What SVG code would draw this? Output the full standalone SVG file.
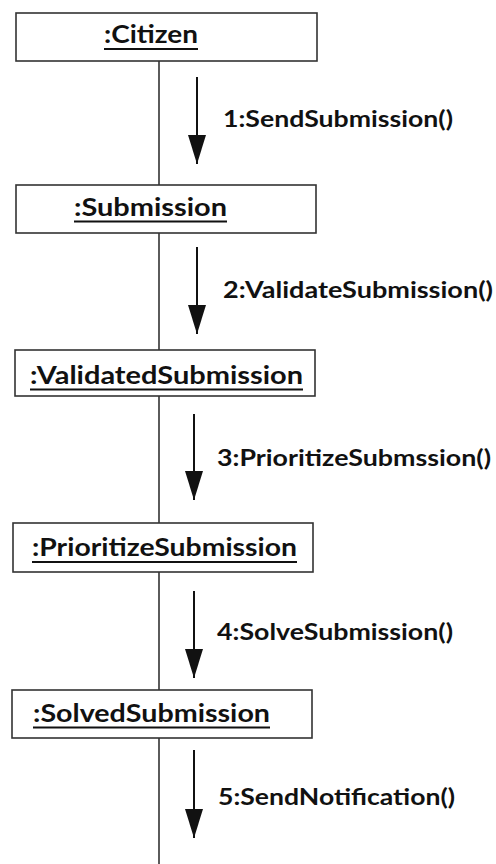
<svg xmlns="http://www.w3.org/2000/svg" width="496" height="864" viewBox="0 0 496 864">
<style>
.box{fill:#fff;stroke:#333;stroke-width:1.6}
.name{font-family:Lato,"Open Sans","Liberation Sans",sans-serif;font-weight:700;font-size:24px;fill:#111}
.ul{stroke:#111;stroke-width:2.2}
.link{stroke:#333;stroke-width:1.6;fill:none}
.msg{stroke:#111;stroke-width:2;fill:none}
.lbl{font-family:Lato,"Open Sans","Liberation Sans",sans-serif;font-weight:700;font-size:23px;fill:#111}
</style>
<defs>
<marker id="ah" markerUnits="userSpaceOnUse" markerWidth="29" markerHeight="18" refX="29" refY="9" orient="auto" viewBox="0 0 29 18">
<path d="M0,0 L29,9 L0,18 z" fill="#111"/>
</marker>
</defs>
<rect width="496" height="864" fill="#fff"/>
<g id="connectors">
<line class="link" x1="159" y1="61" x2="159" y2="185"/>
<line class="link" x1="159" y1="233" x2="159" y2="350"/>
<line class="link" x1="159" y1="396" x2="159" y2="523"/>
<line class="link" x1="159" y1="572" x2="159" y2="690"/>
<line class="link" x1="159" y1="738" x2="159" y2="864"/>
<line class="msg" x1="197" y1="77" x2="197" y2="164" marker-end="url(#ah)"/>
<text class="lbl" x="223" y="127" textLength="230" lengthAdjust="spacingAndGlyphs">1:SendSubmission()</text>
<line class="msg" x1="197" y1="247" x2="197" y2="334" marker-end="url(#ah)"/>
<text class="lbl" x="223" y="298" textLength="270" lengthAdjust="spacingAndGlyphs">2:ValidateSubmission()</text>
<line class="msg" x1="194" y1="414" x2="194" y2="500" marker-end="url(#ah)"/>
<text class="lbl" x="217" y="466" textLength="274" lengthAdjust="spacingAndGlyphs">3:PrioritizeSubmssion()</text>
<line class="msg" x1="194" y1="591" x2="194" y2="678" marker-end="url(#ah)"/>
<text class="lbl" x="217" y="640" textLength="236" lengthAdjust="spacingAndGlyphs">4:SolveSubmission()</text>
<line class="msg" x1="194" y1="750" x2="194" y2="838" marker-end="url(#ah)"/>
<text class="lbl" x="218" y="805" textLength="237" lengthAdjust="spacingAndGlyphs">5:SendNotification()</text>
</g>
<g id="citizen">
<rect class="box" x="16" y="13" width="301" height="48"/>
<text class="name" x="104" y="43" textLength="94" lengthAdjust="spacingAndGlyphs">:Citizen</text>
<line class="ul" x1="104" y1="49" x2="198" y2="49"/>
</g>
<g id="submission">
<rect class="box" x="16" y="185" width="300" height="48"/>
<text class="name" x="74" y="216" textLength="153" lengthAdjust="spacingAndGlyphs">:Submission</text>
<line class="ul" x1="74" y1="221.5" x2="227" y2="221.5"/>
</g>
<g id="validated">
<rect class="box" x="15" y="350" width="300" height="46"/>
<text class="name" x="30" y="384" textLength="273" lengthAdjust="spacingAndGlyphs">:ValidatedSubmission</text>
<line class="ul" x1="30" y1="389.5" x2="303" y2="389.5"/>
</g>
<g id="prioritize">
<rect class="box" x="13" y="523" width="300" height="49"/>
<text class="name" x="32" y="556" textLength="265" lengthAdjust="spacingAndGlyphs">:PrioritizeSubmission</text>
<line class="ul" x1="32" y1="562" x2="297" y2="562"/>
</g>
<g id="solved">
<rect class="box" x="12" y="690" width="300" height="48"/>
<text class="name" x="33" y="722" textLength="237" lengthAdjust="spacingAndGlyphs">:SolvedSubmission</text>
<line class="ul" x1="33" y1="727.5" x2="270" y2="727.5"/>
</g>
</svg>
